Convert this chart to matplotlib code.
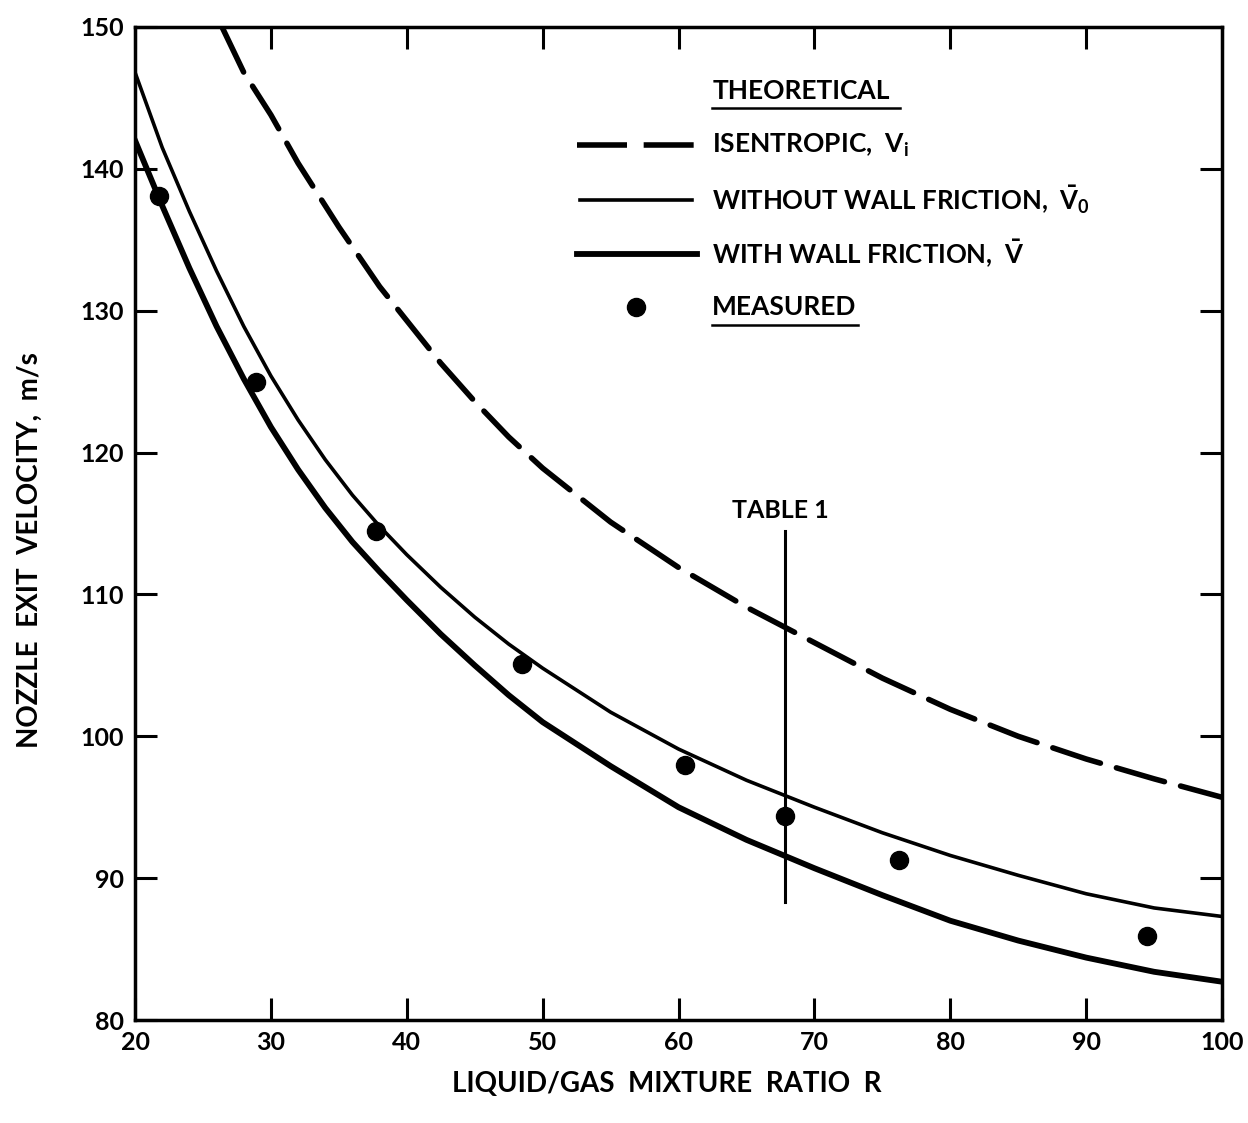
import matplotlib
matplotlib.use("Agg")
import matplotlib.pyplot as plt

plt.rcParams['font.family'] = ['Lato', 'DejaVu Sans']
plt.rcParams['font.weight'] = 'bold'
plt.rcParams['mathtext.fontset'] = 'custom'
plt.rcParams['mathtext.rm'] = 'Lato:bold'
plt.rcParams['mathtext.it'] = 'Lato:bold'
plt.rcParams['mathtext.bf'] = 'Lato:bold'

r_isen = [26.4, 28, 30, 32, 35, 38, 40, 42.5, 45, 47.5, 50, 55, 60, 65, 70, 75, 80, 85, 90, 95, 100]
v_isen = [150.0, 146.8, 143.8, 140.4, 135.9, 131.7, 129.3, 126.3, 123.6, 121.1, 118.9, 115.1,
          111.9, 109.1, 106.6, 104.1, 101.9, 100.0, 98.4, 97.0, 95.7]

r_theo = [20, 22, 24, 26, 28, 30, 32, 34, 36, 38, 40, 42.5, 45, 47.5, 50, 55, 60, 65, 70,
          75, 80, 85, 90, 95, 100]
v_nofric = [146.8, 141.5, 137.0, 132.8, 128.9, 125.4, 122.3, 119.5, 117.0, 114.8, 112.8,
            110.5, 108.4, 106.5, 104.8, 101.7, 99.1, 96.9, 95.0, 93.2, 91.6, 90.2, 88.9,
            87.9, 87.3]
v_fric = [142.0, 137.4, 133.0, 128.9, 125.2, 121.8, 118.8, 116.1, 113.7, 111.6, 109.6,
          107.2, 105.0, 102.9, 101.0, 97.9, 95.0, 92.7, 90.7, 88.8, 87.0, 85.6, 84.4,
          83.4, 82.7]

r_meas = [21.8, 28.9, 37.7, 48.5, 60.5, 67.8, 76.2, 94.5]
v_meas = [138.1, 125.0, 114.5, 105.1, 98.0, 94.4, 91.3, 85.9]

table_r = 67.8
table_v = [88.3, 114.5]

fig = plt.figure(figsize=(12.48, 11.23), dpi=100)
ax = fig.add_axes([0.1082, 0.0917, 0.871, 0.8843])

ax.plot(r_isen, v_isen, color='black', lw=4.0, dashes=(9, 3), dash_capstyle='round')
ax.plot(r_theo, v_nofric, color='black', lw=2.6)
ax.plot(r_theo, v_fric, color='black', lw=4.2)
ax.plot(r_meas, v_meas, 'o', color='black', ms=13)
ax.plot([table_r, table_r], table_v, color='black', lw=2.2)
ax.text(table_r - 0.3, table_v[1] + 0.6, 'TABLE 1', ha='center', va='bottom', fontsize=18)

ax.set_xlim(20, 100)
ax.set_ylim(80, 150)
ax.set_xticks(range(20, 101, 10))
ax.set_yticks(range(80, 151, 10))
ax.tick_params(direction='in', length=16, width=2.2, top=True, right=True,
               labelsize=18, pad=8)
for s in ax.spines.values():
    s.set_linewidth(2.5)

# legend, drawn by hand
tr = ax.transAxes
ax.text(0.531, 0.936, 'THEORETICAL', transform=tr, fontsize=19, va='center')
ax.plot([0.531, 0.704], [0.918, 0.918], transform=tr, color='black', lw=1.8)
ax.plot([0.4066, 0.5152], [0.881, 0.881], transform=tr, color='black', lw=4.0,
        dashes=(9, 3))
ax.text(0.531, 0.881, r'ISENTROPIC,  V$_\mathrm{i}$', transform=tr, fontsize=19, va='center')
ax.plot([0.409, 0.512], [0.8258, 0.8258], transform=tr, color='black', lw=2.6)
ax.text(0.531, 0.8258, r'WITHOUT WALL FRICTION,  $\bar{\mathrm{V}}_0$', transform=tr,
        fontsize=18.5, va='center')
ax.plot([0.4066, 0.517], [0.7714, 0.7714], transform=tr, color='black', lw=4.2)
ax.text(0.531, 0.7714, r'WITH WALL FRICTION,  $\bar{\mathrm{V}}$', transform=tr,
        fontsize=18.5, va='center')
ax.plot([0.461], [0.718], 'o', transform=tr, color='black', ms=13)
ax.text(0.531, 0.718, 'MEASURED', transform=tr, fontsize=19, va='center')
ax.plot([0.531, 0.665], [0.700, 0.700], transform=tr, color='black', lw=1.8)

fig.text(0.024, 0.51, 'NOZZLE  EXIT  VELOCITY,  m/s', rotation=90, ha='center',
         va='center', fontsize=20)
fig.text(0.534, 0.035, 'LIQUID/GAS  MIXTURE  RATIO  R', ha='center', va='center',
         fontsize=20)

fig.savefig('out.png', dpi=100)
